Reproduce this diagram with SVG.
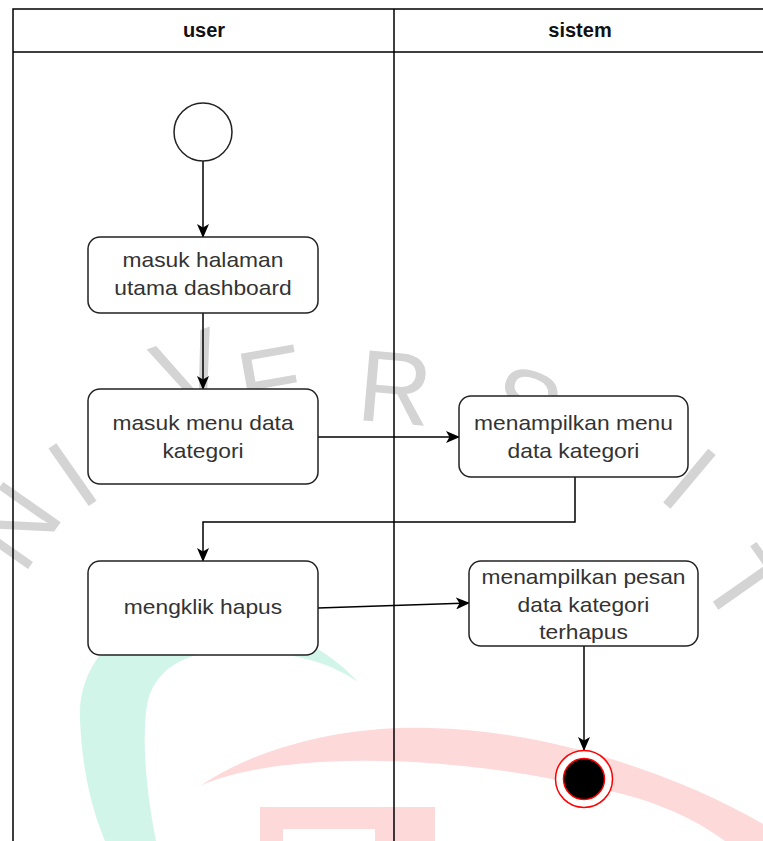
<svg xmlns="http://www.w3.org/2000/svg" width="763" height="841" viewBox="0 0 763 841">
  <style>
    .lane { fill: none; stroke: #000; stroke-width: 1.5; }
    .node { fill: #fff; stroke: #222; stroke-width: 1.5; }
    .lbl { font-family: "Liberation Sans", Arial, sans-serif; font-size: 20px; fill: #333; text-anchor: middle; }
    .hdr { font-family: "Liberation Sans", Arial, sans-serif; font-size: 20px; font-weight: bold; fill: #111; text-anchor: middle; }
    .edge { fill: none; stroke: #000; stroke-width: 1.5; }
    .wm { font-family: "Liberation Sans", Arial, sans-serif; font-size: 102px; fill: #d4d4d4; text-anchor: middle; }
  </style>
  <defs>
    <marker id="arrow" markerUnits="userSpaceOnUse" markerWidth="14" markerHeight="12" refX="13" refY="6" orient="auto">
      <path d="M0,0 L14,6 L0,12 L3.5,6 Z" fill="#000"/>
    </marker>
  </defs>

  <rect width="763" height="841" fill="#fff"/>

  <!-- background watermark -->
  <g id="watermark">
    <path d="M358,682 C320,640 250,610 180,615 C110,622 78,670 80,720 C82,770 92,810 105,841 L156,841 C148,800 140,740 148,700 C158,665 190,650 240,650 C290,652 330,662 358,682 Z" fill="#d2f5ea"/>
    <path d="M200,786 C260,745 350,725 430,728 C540,730 670,770 763,824 L763,841 L725,841 C690,815 645,797 595,788 C510,768 410,757 320,762 C260,766 225,775 200,786 Z" fill="#fdd9da"/>
    <path d="M260,807 H435 V841 H375 V829 H283 V841 H260 Z" fill="#fdd9da"/>
    <text class="wm" transform="translate(15 525) rotate(-55)" y="36">N</text>
    <text class="wm" transform="translate(72 474) rotate(-35)" y="36">I</text>
    <text class="wm" transform="translate(190 370) rotate(-20)" y="36">V</text>
    <text class="wm" transform="translate(272 383) rotate(-10)" y="36">E</text>
    <text class="wm" transform="translate(395 387) rotate(5)" y="36">R</text>
    <text class="wm" transform="translate(525 405) rotate(20)" y="36">S</text>
    <text class="wm" transform="translate(690 478) rotate(40)" y="36">I</text>
    <text class="wm" transform="translate(745 585) rotate(55)" y="36">T</text>
  </g>

  <!-- swimlane frame -->
  <g id="lanes">
    <path class="lane" d="M13,841 V9 H763 M394,9 V841 M13,52 H763"/>
    <text class="hdr" x="204" y="37">user</text>
    <text class="hdr" x="580" y="37">sistem</text>
  </g>

  <!-- connectors -->
  <g id="connectors">
    <path class="edge" d="M203,161 V237" marker-end="url(#arrow)"/>
    <path class="edge" d="M203,313 V389" marker-end="url(#arrow)"/>
    <path class="edge" d="M318,437 H459" marker-end="url(#arrow)"/>
    <path class="edge" d="M575,477 V522 H203 V561" marker-end="url(#arrow)"/>
    <path class="edge" d="M318,608 L469,603" marker-end="url(#arrow)"/>
    <path class="edge" d="M584,646 V750" marker-end="url(#arrow)"/>
  </g>

  <!-- nodes -->
  <g id="start">
    <circle class="node" cx="203" cy="132" r="29"/>
  </g>
  <g id="masuk-dashboard">
    <rect class="node" x="88" y="237" width="230" height="76" rx="12"/>
    <text class="lbl" transform="translate(203 0) scale(1.14 1)"><tspan x="0" y="267">masuk halaman</tspan><tspan x="0" y="295">utama dashboard</tspan></text>
  </g>
  <g id="masuk-menu">
    <rect class="node" x="88" y="389" width="230" height="95" rx="12"/>
    <text class="lbl" transform="translate(203 0) scale(1.14 1)"><tspan x="0" y="430">masuk menu data</tspan><tspan x="0" y="458">kategori</tspan></text>
  </g>
  <g id="tampil-menu">
    <rect class="node" x="459" y="396" width="229" height="81" rx="12"/>
    <text class="lbl" transform="translate(573.5 0) scale(1.14 1)"><tspan x="0" y="430">menampilkan menu</tspan><tspan x="0" y="458">data kategori</tspan></text>
  </g>
  <g id="klik-hapus">
    <rect class="node" x="88" y="561" width="230" height="94" rx="12"/>
    <text class="lbl" transform="translate(203 0) scale(1.14 1)" x="0" y="614">mengklik hapus</text>
  </g>
  <g id="tampil-pesan">
    <rect class="node" x="469" y="561" width="229" height="85" rx="12"/>
    <text class="lbl" transform="translate(583.5 0) scale(1.14 1)"><tspan x="0" y="584">menampilkan pesan</tspan><tspan x="0" y="612">data kategori</tspan><tspan x="0" y="639">terhapus</tspan></text>
  </g>
  <g id="end">
    <circle cx="584" cy="779" r="28.5" fill="#fff" stroke="#ff0000" stroke-width="1.5"/>
    <circle cx="584" cy="779" r="20.5" fill="#000" stroke="#ff0000" stroke-width="1.5"/>
  </g>
</svg>
